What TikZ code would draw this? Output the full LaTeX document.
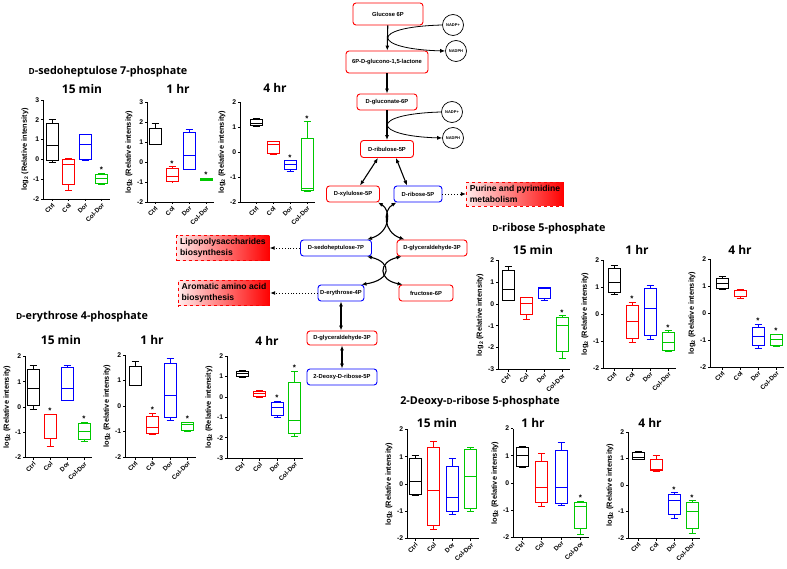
\documentclass[tikz,border=0pt]{standalone}
\usepackage{fontspec}
\setmainfont{Liberation Sans}
\newfontfamily\headfont{Open Sans}
\usetikzlibrary{arrows.meta}

\definecolor{grn}{RGB}{0,200,0}

\newcommand{\tickfont}{\bfseries\fontsize{6.8}{7}\selectfont}
\newcommand{\catfont}{\bfseries\fontsize{6.3}{7}\selectfont}
\newcommand{\ylabfont}{\bfseries\fontsize{7.4}{8}\selectfont}
\newcommand{\timefont}{\headfont\bfseries\fontsize{12}{14}\selectfont}
\newcommand{\panelfont}{\headfont\bfseries\fontsize{10.8}{12}\selectfont}
\newcommand{\smallD}{{\fontsize{8.4}{9}\selectfont D}}
\newcommand{\pathfont}{\bfseries\fontsize{5.8}{7}\selectfont}
\newcommand{\cofont}{\bfseries\fontsize{4}{5}\selectfont}
\newcommand{\fatefont}{\bfseries\fontsize{8.6}{10.5}\selectfont}

\tikzset{
  axisline/.style={line width=0.8pt},
  whisk/.style={line width=1pt},
  ticklab/.style={left, inner sep=1pt, font=\tickfont},
  catlab/.style={rotate=45, anchor=north east, inner sep=0.5pt, font=\catfont},
  ylab/.style={rotate=90, font=\ylabfont},
  sig/.style={above, inner sep=0.5pt, font=\bfseries\fontsize{8}{8}\selectfont},
  timelab/.style={font=\timefont},
  panellab/.style={font=\panelfont},
  metab/.style={draw, rounded corners=3pt, line width=0.9pt, fill=white,
    font=\pathfont, inner sep=1.5pt, minimum height=16pt},
  redm/.style={metab, draw=red},
  bluem/.style={metab, draw=blue},
  cof/.style={circle, draw, line width=0.7pt, minimum size=21pt, inner sep=0pt, font=\cofont},
  fate/.style={draw=red, dashed, left color=red!8, right color=red, line width=0.8pt,
    align=left, font=\fatefont, inner sep=3.5pt},
  flow/.style={-{Latex[length=5pt,width=4pt]}, line width=1.1pt},
  both/.style={{Latex[length=5pt,width=4pt]}-{Latex[length=5pt,width=4pt]}, line width=1.1pt},
  link/.style={-{Latex[length=5pt,width=4pt]}, dotted, line width=0.9pt},
}

% axes of one plot: ymin, ymax, first category, spacing
\newcommand{\plotframe}[4]{%
  \draw[axisline] (0,#1) -- (0,#2);
  \foreach \v in {#1,...,#2}
    \draw[axisline] (0,\v) -- (-2.5,\v) node[ticklab] {\v};
  \draw[axisline] (0,#1) -- ({#3+3*#4+8},#1);
  \foreach \c [count=\i from 0] in {Ctrl,Col,Dor,Col-Dor}
    \draw[axisline] ({#3+\i*#4},#1) -- ++(0pt,-2.5pt) node[catlab] {\c};
  \node[ylab] at (-18,{(#1+#2)/2}) {log\textsubscript{2} (Relative intensity)};
}
% one box: colour, x, min, q1, median, q3, max
\newcommand{\bp}[7]{%
  \draw[whisk, #1] (#2,#3) -- (#2,#4) (#2,#6) -- (#2,#7)
    ({#2-3.5},#3) -- ({#2+3.5},#3) ({#2-3.5},#7) -- ({#2+3.5},#7);
  \draw[whisk, #1] ({#2-6},#4) rectangle ({#2+6},#6) ({#2-6},#5) -- ({#2+6},#5);
}
\newcommand{\sg}[2]{\node[sig] at (#1,#2) {*};}

\begin{document}
\begin{tikzpicture}[x=1pt, y=-1pt]
  \useasboundingbox (0,0) rectangle (787,569);

  % pathway
  \node[redm, minimum width=70pt, minimum height=22pt] (g6p) at (388,14) {Glucose 6P};
  \node[redm, minimum width=82pt, minimum height=22pt] (lac) at (387,62) {6P-D-glucono-1,5-lactone};
  \node[redm, minimum width=60pt] (glc) at (387,102) {D-gluconate-6P};
  \node[redm, minimum width=53pt, minimum height=17pt] (ru5p) at (387,149) {D-ribulose-5P};
  \node[cof] (nadp1) at (453,25) {NADP+};
  \node[cof] (nadph1) at (456,51) {NADPH};
  \node[cof] (nadp2) at (452,112) {NADP+};
  \node[cof] (nadph2) at (453,138) {NADPH};
  \node[redm, minimum width=53pt] (xu5p) at (353,194) {D-xylulose-5P};
  \node[bluem, minimum width=48pt] (r5p) at (418,194) {D-ribose-5P};
  \node[fate] (pur) at (515,194) {Purine and pyrimidine\\metabolism};
  \node[bluem, minimum width=71pt] (s7p) at (336,248) {D-sedoheptulose-7P};
  \node[redm, minimum width=70pt] (gap1) at (432,248) {D-glyceraldehyde-3P};
  \node[fate] (lps) at (223,248) {Lipopolysaccharides\\biosynthesis};
  \node[fate] (aro) at (224,293) {Aromatic amino acid\\biosynthesis};
  \node[bluem, minimum width=46pt] (e4p) at (341,293) {D-erythrose-4P};
  \node[redm, minimum width=54pt] (f6p) at (426,293) {fructose-6P};
  \node[redm, minimum width=70pt, minimum height=14pt] (gap2) at (342,338) {D-glyceraldehyde-3P};
  \node[bluem, minimum width=70pt] (dr5p) at (342,377) {2-Deoxy-D-ribose-5P};

  \draw[flow] (g6p) -- (lac);
  \draw[flow] (lac) -- (glc);
  \draw[flow] (glc) -- (ru5p);
  \draw[flow, line width=0.8pt] (nadp1.west) .. controls (368,27) and (372,49) .. (nadph1.west);
  \draw[flow, line width=0.8pt] (nadp2.west) .. controls (368,114) and (372,136) .. (nadph2.west);
  \draw[both] ([xshift=-9pt]ru5p.south) -- ([xshift=7pt]xu5p.north);
  \draw[both] ([xshift=9pt]ru5p.south) -- ([xshift=-11pt]r5p.north);
  \draw[both] ([xshift=-2pt]xu5p.south east) .. controls (391,210) and (391,232) .. ([xshift=-5pt]s7p.north east);
  \draw[both] ([xshift=3pt]r5p.south west) .. controls (383,210) and (383,232) .. ([xshift=8pt]gap1.north west);
  \draw[both] ([xshift=-5pt]s7p.south east) .. controls (392,262) and (392,280) .. ([xshift=-3pt]e4p.north east);
  \draw[both] ([xshift=5pt]gap1.south west) .. controls (378,262) and (378,280) .. ([xshift=4pt]f6p.north west);
  \draw[both] (e4p.south) -- (e4p.south |- gap2.north);
  \draw[both] (gap2) -- (dr5p);
  \draw[link] (r5p) -- (pur);
  \draw[link] (s7p) -- (lps);
  \draw[link] (e4p) -- (aro);

  % D-sedoheptulose 7-phosphate
  \node[panellab] (st) at (108,72) {\smallD-sedoheptulose 7-phosphate};
  \node[timelab] (s1t) at (82,89) {15 min};
  \node[timelab] (s2t) at (178,89) {1 hr};
  \node[timelab] (s3t) at (275,88) {4 hr};
  \begin{scope}[shift={(43,159.4)}, y={(0pt,19.8pt)}]
    \plotframe{-2}{3}{9}{16.5}
    \bp{black}{9}{-0.15}{-0.05}{0.72}{1.8}{2.0}
    \bp{red}{25.5}{-1.55}{-1.25}{-0.25}{0.0}{0.05}
    \bp{blue}{42}{-0.08}{0.0}{0.75}{1.25}{1.28}
    \bp{grn}{58.5}{-1.28}{-1.2}{-0.98}{-0.75}{-0.7}
    \sg{58.5}{-0.7}
  \end{scope}
  \begin{scope}[shift={(147,162)}, y={(0pt,20pt)}]
    \plotframe{-2}{3}{8}{17}
    \bp{black}{8}{0.85}{0.85}{0.88}{1.68}{1.92}
    \bp{red}{25}{-1.0}{-0.98}{-0.75}{-0.35}{-0.25}
    \bp{blue}{42}{-0.4}{-0.4}{0.3}{1.45}{1.6}
    \bp{grn}{59}{-0.95}{-0.92}{-0.88}{-0.85}{-0.82}
    \sg{25}{-0.25} \sg{59}{-0.82}
  \end{scope}
  \begin{scope}[shift={(240,152)}, y={(0pt,25pt)}]
    \plotframe{-2}{2}{16}{17}
    \bp{black}{16}{1.0}{1.05}{1.15}{1.3}{1.35}
    \bp{red}{33}{-0.12}{-0.08}{0.28}{0.42}{0.42}
    \bp{blue}{50}{-0.8}{-0.72}{-0.5}{-0.35}{-0.35}
    \bp{grn}{67}{-1.58}{-1.55}{-1.48}{0.55}{1.2}
    \sg{50}{-0.35} \sg{67}{1.2}
  \end{scope}

  % D-erythrose 4-phosphate
  \node[panellab] (et) at (82,317) {\smallD-erythrose 4-phosphate};
  \node[timelab] (e1t) at (61,340) {15 min};
  \node[timelab] (e2t) at (152,340) {1 hr};
  \node[timelab] (e3t) at (267,341) {4 hr};
  \begin{scope}[shift={(25,407)}, y={(0pt,25.3pt)}]
    \plotframe{-2}{2}{8}{17}
    \bp{black}{8}{-0.08}{0.05}{0.72}{1.5}{1.65}
    \bp{red}{25}{-1.55}{-1.25}{-0.3}{-0.3}{-0.3}
    \bp{blue}{42}{0.25}{0.25}{0.75}{1.55}{1.65}
    \bp{grn}{59}{-1.35}{-1.3}{-0.95}{-0.65}{-0.6}
    \sg{25}{-0.3} \sg{59}{-0.6}
  \end{scope}
  \begin{scope}[shift={(125,406)}, y={(0pt,25.5pt)}]
    \plotframe{-2}{2}{10}{17.5}
    \bp{black}{10}{0.8}{0.8}{0.82}{1.55}{1.75}
    \bp{red}{27.5}{-1.12}{-1.08}{-0.85}{-0.4}{-0.28}
    \bp{blue}{45}{-0.58}{-0.45}{0.42}{1.65}{1.85}
    \bp{grn}{62.5}{-1.0}{-0.98}{-0.72}{-0.63}{-0.63}
    \sg{27.5}{-0.28} \sg{62.5}{-0.63}
  \end{scope}
  \begin{scope}[shift={(227,397)}, y={(0pt,20.4pt)}]
    \plotframe{-3}{2}{15}{17.5}
    \bp{black}{15}{0.95}{1.0}{1.15}{1.25}{1.3}
    \bp{red}{32.5}{0.0}{0.02}{0.15}{0.28}{0.3}
    \bp{blue}{50}{-1.0}{-0.9}{-0.5}{-0.25}{-0.2}
    \bp{grn}{67.5}{-1.95}{-1.78}{-1.15}{0.7}{1.25}
    \sg{50}{-0.2} \sg{67.5}{1.25}
  \end{scope}

  % D-ribose 5-phosphate
  \node[panellab] (rt) at (549,229) {\smallD-ribose 5-phosphate};
  \node[timelab] (r1t) at (533,250) {15 min};
  \node[timelab] (r2t) at (637,250) {1 hr};
  \node[timelab] (r3t) at (740,250) {4 hr};
  \begin{scope}[shift={(498,304)}, y={(0pt,21.8pt)}]
    \plotframe{-3}{2}{10}{18}
    \bp{black}{10}{0.15}{0.15}{0.65}{1.55}{1.7}
    \bp{red}{28}{-0.7}{-0.5}{0.0}{0.28}{0.3}
    \bp{blue}{46}{0.15}{0.25}{0.72}{0.75}{0.75}
    \bp{grn}{64}{-2.5}{-2.2}{-1.0}{-0.6}{-0.55}
    \sg{64}{-0.55}
  \end{scope}
  \begin{scope}[shift={(603,314)}, y={(0pt,27pt)}]
    \plotframe{-2}{2}{11}{18}
    \bp{black}{11}{0.72}{0.78}{1.15}{1.68}{1.78}
    \bp{red}{29}{-1.05}{-0.9}{-0.28}{0.3}{0.42}
    \bp{blue}{47}{-0.95}{-0.8}{0.2}{0.95}{1.05}
    \bp{grn}{65}{-1.38}{-1.35}{-1.05}{-0.68}{-0.62}
    \sg{29}{0.42} \sg{65}{-0.62}
  \end{scope}
  \begin{scope}[shift={(710,313)}, y={(0pt,27pt)}]
    \plotframe{-2}{2}{12}{18}
    \bp{black}{12}{0.88}{0.92}{1.1}{1.28}{1.35}
    \bp{red}{30}{0.55}{0.6}{0.85}{0.85}{0.88}
    \bp{blue}{48}{-1.3}{-1.22}{-0.88}{-0.52}{-0.42}
    \bp{grn}{66}{-1.25}{-1.2}{-0.97}{-0.8}{-0.78}
    \sg{48}{-0.42} \sg{66}{-0.78}
  \end{scope}

  % 2-Deoxy-D-ribose 5-phosphate
  \node[panellab] (dt) at (480,402) {2-Deoxy-\smallD-ribose 5-phosphate};
  \node[timelab] (d1t) at (437,423) {15 min};
  \node[timelab] (d2t) at (533,423) {1 hr};
  \node[timelab] (d3t) at (650,423) {4 hr};
  \begin{scope}[shift={(407,484)}, y={(0pt,27.3pt)}]
    \plotframe{-2}{2}{8}{18.5}
    \bp{black}{8}{-0.42}{-0.38}{0.1}{0.92}{1.05}
    \bp{red}{26.5}{-1.68}{-1.52}{-0.25}{1.32}{1.55}
    \bp{blue}{45}{-1.1}{-1.0}{-0.5}{0.65}{0.95}
    \bp{grn}{63.5}{-1.0}{-0.88}{0.28}{1.25}{1.32}
  \end{scope}
  \begin{scope}[shift={(513,483)}, y={(0pt,27.2pt)}]
    \plotframe{-2}{2}{9}{19.5}
    \bp{black}{9}{0.58}{0.62}{1.0}{1.32}{1.35}
    \bp{red}{28.5}{-0.85}{-0.7}{-0.15}{0.78}{1.08}
    \bp{blue}{48}{-0.82}{-0.75}{-0.15}{1.18}{1.5}
    \bp{grn}{67.5}{-1.9}{-1.68}{-0.85}{-0.7}{-0.68}
    \sg{67.5}{-0.68}
  \end{scope}
  \begin{scope}[shift={(628,485)}, y={(0pt,26.5pt)}]
    \plotframe{-2}{2}{10}{18}
    \bp{black}{10}{0.95}{0.98}{1.05}{1.22}{1.25}
    \bp{red}{28}{0.52}{0.55}{0.58}{0.98}{1.1}
    \bp{blue}{46}{-1.25}{-1.12}{-0.6}{-0.35}{-0.3}
    \bp{grn}{64}{-1.82}{-1.65}{-1.0}{-0.65}{-0.6}
    \sg{46}{-0.3} \sg{64}{-0.6}
  \end{scope}
\end{tikzpicture}
\end{document}
